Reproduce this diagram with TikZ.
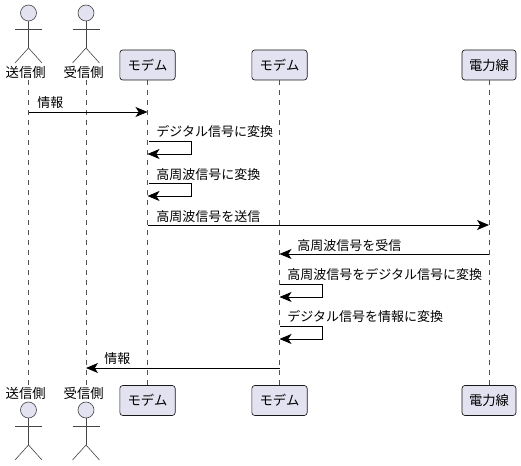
\documentclass[tikz,border=0pt]{standalone}
\usepackage{fontspec}
\setmainfont{Noto Sans CJK JP}
\usetikzlibrary{arrows.meta}
\definecolor{pfill}{HTML}{E2E2F0}
\definecolor{pline}{HTML}{181818}
\tikzset{
  x=0.75pt,y=-0.75pt,
  part/.style={draw=pline,line width=0.5pt,fill=pfill,rounded corners=2.2pt,minimum width=41.5pt,minimum height=22.5pt,inner sep=0pt,font=\fontsize{10}{11}\selectfont,text=black},
  partwide/.style={part,minimum width=40.5pt},
  actorlabel/.style={inner sep=0pt,font=\fontsize{10}{11}\selectfont,text=black,minimum width=30pt,minimum height=12pt},
  life/.style={draw=pline!75,line width=0.4pt,dash pattern=on 3.75pt off 3.75pt},
  msg/.style={draw=black,line width=0.7pt,-{Stealth[length=9pt,width=7.5pt,inset=2.4pt]}},
  msglabel/.style={anchor=west,inner sep=0pt,font=\fontsize{9.75}{11}\selectfont,text=black},
  stick/.style={draw=pline!80,line width=0.45pt},
  head/.style={draw=pline!80,line width=0.45pt,fill=pfill},
}
\newcommand{\stickman}[2]{%
  \draw[head] (#1,#2) circle (8);
  \draw[stick] (#1,#2+8) -- (#1,#2+35);
  \draw[stick] (#1-13.5,#2+16) -- (#1+13.5,#2+16);
  \draw[stick] (#1-13.5,#2+50) -- (#1,#2+35) -- (#1+13.5,#2+50);
}
\begin{document}
\begin{tikzpicture}
\useasboundingbox (0,0) rectangle (521,466);
% participants
\node[actorlabel] (aT) at (25.7,72.5) {送信側};
\node[actorlabel] (bT) at (83.7,72.5) {受信側};
\node[actorlabel] (aB) at (25.7,393.5) {送信側};
\node[actorlabel] (bB) at (83.7,393.5) {受信側};
\coordinate (aTop) at (28.5,80);
\coordinate (bTop) at (86,80);
\coordinate (aEnd) at (28.5,385);
\coordinate (bEnd) at (86,385);
\path[life] (aTop) -- (aEnd);
\path[life] (bTop) -- (bEnd);
\node[part] (mT) at (147.5,65) {モデム};
\node[part] (mB) at (147.5,400.5) {モデム};
\node[part] (nT) at (279.5,65) {モデム};
\node[part] (nB) at (279.5,400.5) {モデム};
\node[partwide] (pT) at (489,65) {電力線};
\node[partwide] (pB) at (489,400.5) {電力線};
\path[life] (mT) -- (mB);
\path[life] (nT) -- (nB);
\path[life] (pT) -- (pB);
\stickman{28.5}{13}
\stickman{86}{13}
\stickman{28.5}{410}
\stickman{86}{410}
% messages
\draw[msg] (aTop|-0,112) -- (mT|-0,112);
\node[msglabel] (l1) at (37,102.7) {情報};
\draw[msg] (149,141) -- (191.5,141) -- (191.5,154) -- (mT|-0,154);
\node[msglabel] (l2) at (156,131.7) {デジタル信号に変換};
\draw[msg] (149,183) -- (191.5,183) -- (191.5,196) -- (mT|-0,196);
\node[msglabel] (l3) at (156,174.7) {高周波信号に変換};
\draw[msg] (mT|-0,225) -- (pT|-0,225);
\node[msglabel] (l4) at (156,216.7) {高周波信号を送信};
\draw[msg] (pT|-0,254) -- (nT|-0,254);
\node[msglabel] (l5) at (297,245.7) {高周波信号を受信};
\draw[msg] (280,284) -- (322.5,284) -- (322.5,297) -- (nT|-0,297);
\node[msglabel] (l6) at (287,274.7) {高周波信号をデジタル信号に変換};
\draw[msg] (280,326) -- (322.5,326) -- (322.5,339) -- (nT|-0,339);
\node[msglabel] (l7) at (287,316.7) {デジタル信号を情報に変換};
\draw[msg] (nT|-0,368) -- (bTop|-0,368);
\node[msglabel] (l8) at (104,358.7) {情報};
\end{tikzpicture}
\end{document}
